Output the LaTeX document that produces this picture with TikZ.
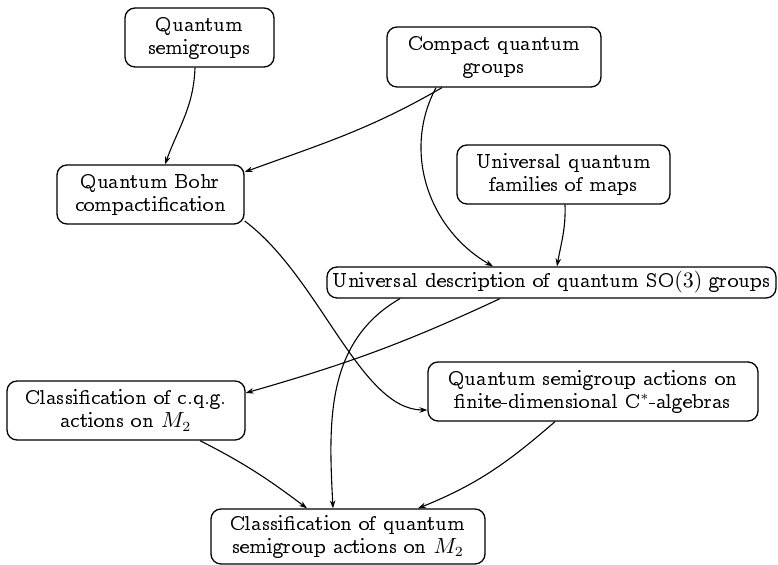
\documentclass[tikz,border=0pt]{standalone}
\usepackage[OT1]{fontenc}
\DeclareFontFamily{OT1}{myccr}{}
\DeclareFontShape{OT1}{myccr}{m}{n}{<-> ccr10}{}
\renewcommand{\rmdefault}{myccr}
\usetikzlibrary{arrows.meta}
\begin{document}
\begin{tikzpicture}[x=0.5pt,y=-0.5pt,
  box/.style={draw, rounded corners=5pt, align=center, inner sep=1pt, line width=0.65pt,
    font=\fontsize{10.5}{11.6}\selectfont},
  arr/.style={-{Stealth[length=4pt,width=2.8pt]}, line width=0.55pt}]
\useasboundingbox (0,0) rectangle (778,565);
\node[box, minimum width=74.5pt, minimum height=29.5pt] (qs) at (199.5,37.5) {Quantum\\semigroups};
\node[box, minimum width=107pt, minimum height=30pt] (cqg) at (494,57) {Compact quantum\\groups};
\node[box, minimum width=93.5pt, minimum height=29.5pt] (qb) at (150.5,194.5) {Quantum Bohr\\compactification};
\node[box, minimum width=106.5pt, minimum height=29.5pt] (uqf) at (563.5,174.5) {Universal quantum\\families of maps};
\node[box, minimum width=224.5pt, minimum height=15.5pt] (ud) at (551.5,282.5) {Universal description of quantum SO$(3)$ groups};
\node[box, minimum width=119pt, minimum height=29.5pt] (cl1) at (126,410.5) {Classification of c.q.g.\\actions on $M_2$};
\node[box, minimum width=165pt, minimum height=29.5pt] (qsa) at (593,391.5) {Quantum semigroup actions on\\finite-dimensional C$^*$-algebras};
\node[box, minimum width=137pt, minimum height=27.5pt] (cl2) at (348,536.5) {Classification of quantum\\semigroup actions on $M_2$};

\draw[arr] ([xshift=-2.25pt]qs.south) to[out=-92, in=70] ([xshift=7.25pt]qb.north);
\draw[arr] ([xshift=-26pt]cqg.south) to[out=210, in=20] ([yshift=11.25pt]qb.east);
\draw[arr] ([xshift=-29pt]cqg.south) to[out=-118, in=150] ([xshift=-29.25pt]ud.north);
\draw[arr] ([xshift=0.75pt]uqf.south) to[out=-88, in=80] ([xshift=2.75pt]ud.north);
\draw[arr] ([yshift=-13.25pt]qb.east) .. controls +(75,56) and +(-67,0) .. ([yshift=-9.25pt]qsa.west);
\draw[arr] ([xshift=-75.75pt]ud.south) to[out=210, in=93] ([xshift=-7.5pt]cl2.north);
\draw[arr] ([xshift=-25.75pt]ud.south) to[out=205, in=16] ([yshift=8.75pt]cl1.east);
\draw[arr] ([xshift=37pt]cl1.south) to[out=-27, in=143] ([xshift=-20.5pt]cl2.north);
\draw[arr] ([xshift=-19pt]qsa.south) to[out=221, in=22] ([xshift=35pt]cl2.north);
\end{tikzpicture}
\end{document}
